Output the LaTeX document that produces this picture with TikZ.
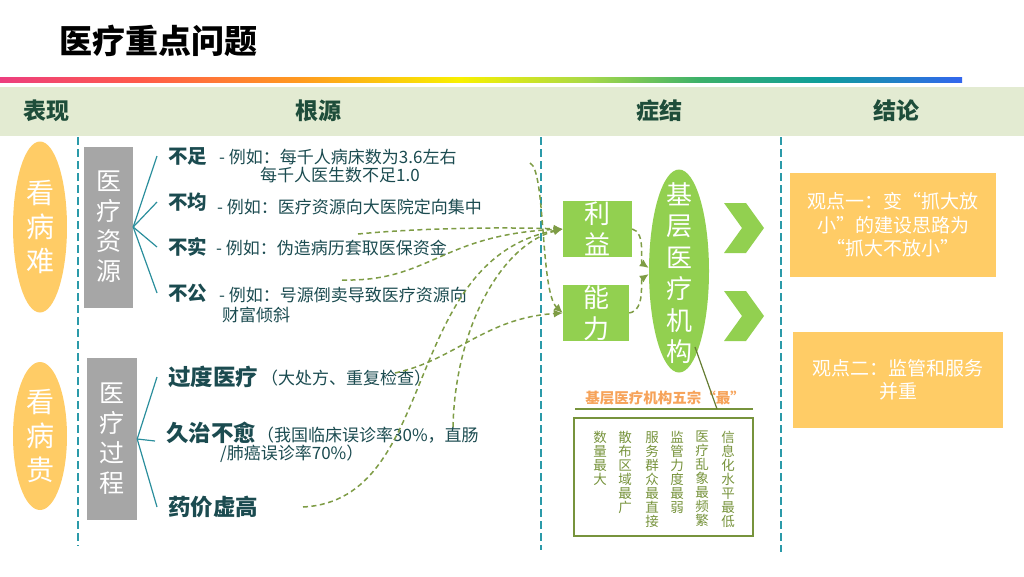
\documentclass[tikz,border=0pt]{standalone}
\usepackage{fontspec}
\setmainfont{Noto Sans CJK SC}
\usetikzlibrary{arrows.meta,shapes.geometric}

\definecolor{hdrgreen}{HTML}{1E4D3A}
\definecolor{txtteal}{HTML}{1B4B50}
\definecolor{bandbg}{HTML}{E3EBD2}
\definecolor{septeal}{HTML}{2B9AA9}
\definecolor{braceteal}{HTML}{2A8E9C}
\definecolor{softorange}{HTML}{FFCC66}
\definecolor{boxgrey}{HTML}{A6A6A6}
\definecolor{leafgreen}{HTML}{92D050}
\definecolor{olivedash}{HTML}{7E9C45}
\definecolor{olivebox}{HTML}{77933C}
\definecolor{lblorange}{HTML}{F6A35A}
\definecolor{rbA}{HTML}{EC3E7F}
\definecolor{rbB}{HTML}{FF5A4A}
\definecolor{rbC}{HTML}{FF9A20}
\definecolor{rbD}{HTML}{F8F000}
\definecolor{rbE}{HTML}{A6D84A}
\definecolor{rbF}{HTML}{3CB06A}
\definecolor{rbG}{HTML}{0E9E9A}
\definecolor{rbH}{HTML}{3366EE}

\tikzset{
  hdr/.style={inner sep=0pt,text=hdrgreen,font=\bfseries\fontsize{23}{26}\selectfont},
  sepline/.style={septeal,line width=1.4pt,dash pattern=on 8pt off 4pt},
  brace/.style={braceteal,line width=1.2pt},
  flow/.style={olivedash,line width=1.5pt,dash pattern=on 5pt off 3.5pt,-{Latex[length=9pt,width=8pt]}},
  bigell/.style={ellipse,fill=softorange,inner sep=0pt,text=white,align=center,font=\fontsize{28}{34}\selectfont},
  greybox/.style={rectangle,fill=boxgrey,inner sep=0pt,text=white,align=center,font=\fontsize{25}{30}\selectfont},
  keyA/.style={anchor=west,inner sep=0pt,text=txtteal,font=\bfseries\fontsize{19.5}{22}\selectfont},
  keyB/.style={anchor=west,inner sep=0pt,text=txtteal,font=\bfseries\fontsize{22.5}{25}\selectfont},
  desc/.style={anchor=west,inner sep=0pt,text=txtteal,font=\fontsize{17}{19}\selectfont},
  greenbox/.style={rectangle,fill=leafgreen,inner sep=0pt,text=white,align=center,font=\fontsize{26}{31}\selectfont},
  viewbox/.style={rectangle,fill=softorange,inner sep=0pt,text=white,align=center,font=\fontsize{19}{23.5}\selectfont},
  coltext/.style={anchor=north,inner sep=0pt,text=olivebox,align=center,font=\fontsize{13.5}{14}\selectfont}
}

\begin{document}
\begin{tikzpicture}[x=1pt,y=-1pt]
    \useasboundingbox (0,0) rectangle (1024,576);

    % title and rainbow rule
    \node[anchor=west,inner sep=0pt,font=\bfseries\fontsize{33}{36}\selectfont] (title) at (59,41) {医疗重点问题};
    \foreach \xa/\xb/\ca/\cb in {0/140.5/rbA/rbB,140/300.5/rbB/rbC,300/460.5/rbC/rbD,460/590.5/rbD/rbE,590/700.5/rbE/rbF,700/820.5/rbF/rbG,820/962/rbG/rbH}
        \shade[left color=\ca,right color=\cb] (\xa,77) rectangle (\xb,82);

    % header band
    \fill[bandbg] (0,87) rectangle (1024,136);
    \foreach \name/\x/\txt in {hbx/46/表现,hgy/318/根源,hzj/659/症结,hjl/896/结论}
        \node[hdr] (\name) at (\x,111) {\txt};

    \foreach \x/\ya/\yb in {78/137/546,541/137/550,781/137/552}
        \draw[sepline] (\x,\ya) -- (\x,\yb);

    % left column
    \node[bigell,minimum width=54pt,minimum height=171pt] (kbn) at (40,227) {看\\病\\难};
    \node[bigell,minimum width=54pt,minimum height=148pt] (kbg) at (40,436) {看\\病\\贵};

    \node[greybox,minimum width=49pt,minimum height=161pt] (zyuan) at (108.5,227) {医\\疗\\资\\源};
    \node[greybox,minimum width=50pt,minimum height=162pt] (gcheng) at (112,439) {医\\疗\\过\\程};

    \node[keyA] (buzu) at (168,156) {不足};
    \node[keyA] (bujun) at (168,202) {不均};
    \node[keyA] (bushi) at (168,247) {不实};
    \node[keyA] (bugong) at (168,293) {不公};
    \node[desc] (dbuzu) at (219,157) {- 例如：每千人病床数为3.6左右};
    \node[desc] (dbuzub) at (260,175) {每千人医生数不足1.0};
    \node[desc] (dbujun) at (217,207) {- 例如：医疗资源向大医院定向集中};
    \node[desc] (dbushi) at (216,248) {- 例如：伪造病历套取医保资金};
    \node[desc] (dbugong) at (219,295) {- 例如：号源倒卖导致医疗资源向};
    \node[desc] (dbugongb) at (222,315) {财富倾斜};

    \node[keyB] (guodu) at (168,377) {过度医疗};
    \node[keyB] (jiuzhi) at (166,433) {久治不愈};
    \node[keyB] (yaojia) at (168,507) {药价虚高};
    \node[desc] (dguodu) at (261,378) {（大处方、重复检查）};
    \node[desc] (djiuzhi) at (257,435) {（我国临床误诊率30\%，直肠};
    \node[desc] (djiuzhib) at (220,454) {/肺癌误诊率70\%）};

    \foreach \to in {buzu,bujun,bushi,bugong}
        \draw[brace] (zyuan.east) -- ([xshift=-11pt]\to.west);
    \foreach \to/\dy in {guodu/0,jiuzhi/-8,yaojia/0}
        \draw[brace] (gcheng.east) -- ([xshift=-11pt,yshift=\dy pt]\to.west);

    % middle column
    \node[greenbox,minimum width=69pt,minimum height=56pt] (liyi) at (597.5,229) {利\\益};
    \node[greenbox,minimum width=66pt,minimum height=56pt] (nengli) at (596,313) {能\\力};
    \node[ellipse,fill=leafgreen,inner sep=0pt,minimum width=60pt,minimum height=203pt] (jc) at (679,271) {};
    \node[inner sep=0pt,text=white,align=center,font=\fontsize{26}{31.5}\selectfont] (jctext) at (679,273) {基\\层\\医\\疗\\机\\构};

    \foreach \yc in {228,316}
        \fill[leafgreen] (724,\yc-25) -- (746,\yc-25) -- (764,\yc) -- (746,\yc+25) -- (724,\yc+25) -- (742,\yc) -- cycle;

    \node[font=\bfseries\fontsize{14.5}{16}\selectfont,text=lblorange,inner sep=0pt] (wzlbl) at (665,398) {基层医疗机构五宗“最”};
    \coordinate (ulL) at (575,409);
    \coordinate (ulR) at (753,409);
    \coordinate (ulTip) at (717,409);
    \draw[olivebox,line width=1.5pt] (ulL) -- (ulR);
    \draw[olivebox!85!black,line width=1.2pt] (jc.center) ++(16,76) -- (ulTip);
    \node[draw=olivebox,line width=1.5pt,minimum width=179pt,minimum height=118pt,inner sep=0pt] (wzbox) at (663.5,477) {};
    \foreach \x/\txt in {600/数\\量\\最\\大,625/散\\布\\区\\域\\最\\广,652/服\\务\\群\\众\\最\\直\\接,677/监\\管\\力\\度\\最\\弱,702/医\\疗\\乱\\象\\最\\频\\繁,728/信\\息\\化\\水\\平\\最\\低}
        \node[coltext] at (\x,431) {\txt};

    % dashed flows
    \coordinate (fA) at (530,163);
    \coordinate (fB) at (358,234);
    \coordinate (fC) at (342,280);
    \coordinate (fD) at (303,507);
    \coordinate (fE) at (453,427);
    \coordinate (fF) at (395,373);
    \draw[flow] (fA) .. controls (546,170) and (540,292) .. (nengli.west);
    \draw[flow] (fB) .. controls (420,228) and (500,227) .. (liyi.west);
    \draw[flow] (fC) .. controls (430,282) and (440,235) .. (liyi.west);
    \draw[flow] (fD) .. controls (440,500) and (400,260) .. (liyi.west);
    \draw[flow] (fE) .. controls (455,330) and (500,245) .. (liyi.west);
    \draw[flow] (fF) .. controls (455,360) and (485,318) .. (nengli.west);
    \draw[flow] (liyi.east) .. controls (646,232) and (640,262) .. ([yshift=3pt]jc.west);
    \draw[flow] (nengli.east) .. controls (646,310) and (640,280) .. ([yshift=-3pt]jc.west);

    % right column
    \node[viewbox,minimum width=206pt,minimum height=104pt] (gd1) at (893,225) {观点一：变“抓大放\\小”的建设思路为\\“抓大不放小”};
    \node[viewbox,minimum width=210pt,minimum height=96pt] (gd2) at (898,380) {观点二：监管和服务\\并重};
\end{tikzpicture}
\end{document}
